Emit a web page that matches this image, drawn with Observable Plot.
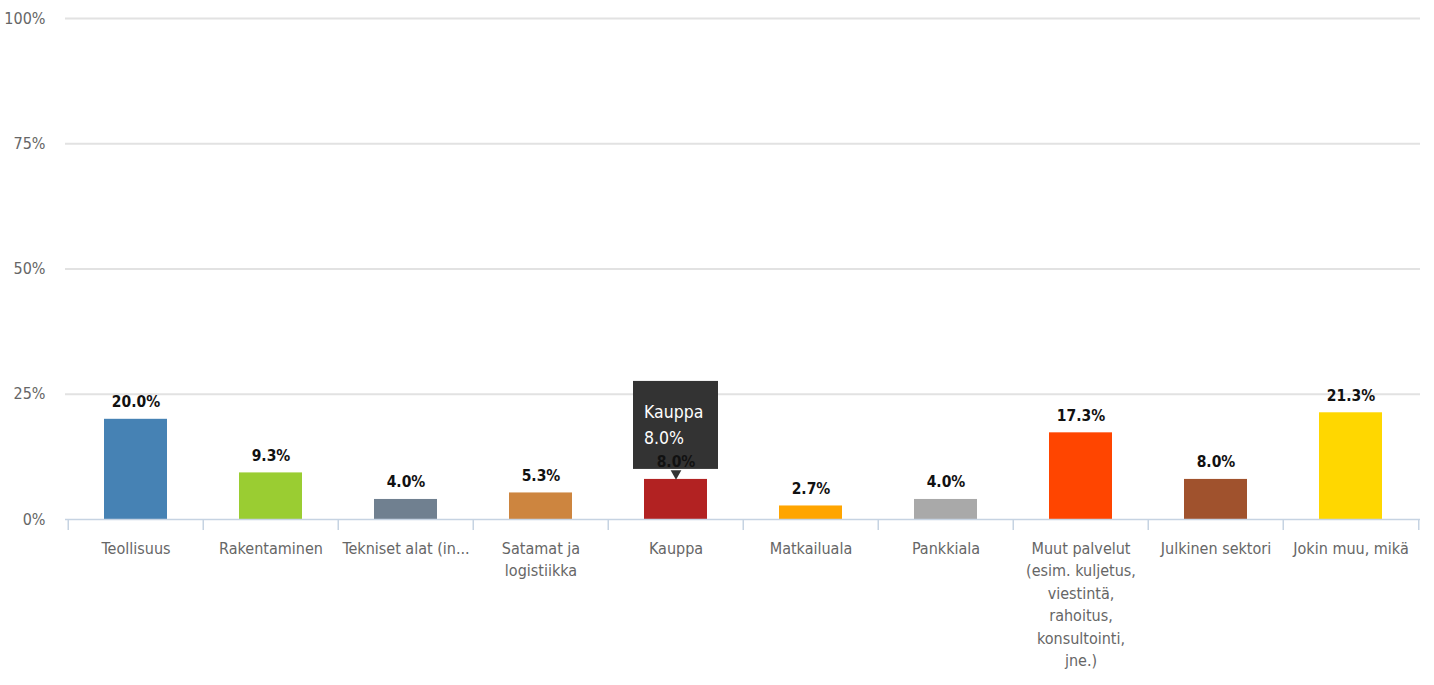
<!DOCTYPE html>
<html>
<head>
<meta charset="utf-8">
<script src="https://cdn.jsdelivr.net/npm/d3@7"></script>
<script src="https://cdn.jsdelivr.net/npm/@observablehq/plot@0.6"></script>
<style>
  html, body { margin: 0; padding: 0; background: #fff; }
</style>
</head>
<body>
<div id="chart"></div>
<script>
// Sectors of respondents (share of answers, %)
const categories = [
  "Teollisuus",
  "Rakentaminen",
  "Tekniset alat (in...",
  "Satamat ja logistiikka",
  "Kauppa",
  "Matkailuala",
  "Pankkiala",
  "Muut palvelut (esim. kuljetus, viestintä, rahoitus, konsultointi, jne.)",
  "Julkinen sektori",
  "Jokin muu, mikä"
];
const tickLabels = [
  "Teollisuus",
  "Rakentaminen",
  "Tekniset alat (in...",
  "Satamat ja\nlogistiikka",
  "Kauppa",
  "Matkailuala",
  "Pankkiala",
  "Muut palvelut\n(esim. kuljetus,\nviestintä,\nrahoitus,\nkonsultointi,\njne.)",
  "Julkinen sektori",
  "Jokin muu, mikä"
];
const shares = [20.0, 9.3, 4.0, 5.3, 8.0, 2.7, 4.0, 17.3, 8.0, 21.3];
const barColors = ["steelblue", "yellowgreen", "slategray", "peru", "firebrick",
                   "orange", "darkgray", "orangered", "sienna", "gold"];
const yTicks = [0, 25, 50, 75, 100];
const highlighted = "Kauppa";

const data = categories.map((category, i) => ({
  category, label: tickLabels[i], value: shares[i]
}));
const tip = data.filter(d => d.category === highlighted);

const W = 1434, H = 685;
const mL = 65, mR = 14, mT = 18, mB = 166;
const step = (W - mL - mR) / categories.length;
const FONT = "'DejaVu Sans Condensed', 'DejaVu Sans', sans-serif";
const pct = v => v.toFixed(1) + "%";

const chart = Plot.plot({
  width: W,
  height: H,
  marginLeft: mL,
  marginRight: mR,
  marginTop: mT,
  marginBottom: mB,
  style: {fontFamily: FONT, fontSize: "16px", background: "white", color: "#666"},
  x: {domain: categories, padding: 0, axis: null},
  y: {domain: [0, 100], axis: null},
  color: {domain: categories, range: barColors},
  marks: [
    // horizontal grid
    Plot.ruleY(yTicks.filter(t => t > 0), {y: d => d, stroke: "#e2e2e2", strokeWidth: 2}),
    // y tick labels
    Plot.text(yTicks, {
      y: d => d, frameAnchor: "left", dx: -20, textAnchor: "end",
      text: d => d + "%", fill: "#666", fontSize: 16
    }),
    // category bars
    Plot.barY(data, {x: "category", y: "value", fill: "category", insetLeft: 36, insetRight: 36}),
    // baseline and band separators
    Plot.ruleY([0], {stroke: "#c6d3e2", strokeWidth: 1.5}),
    Plot.ruleX(categories, {
      x: d => d, y1: () => 0, y2: () => 0, insetBottom: -11, dx: -step / 2,
      stroke: "#c6d3e2", strokeWidth: 1.5
    }),
    Plot.ruleX(categories.slice(-1), {
      x: d => d, y1: () => 0, y2: () => 0, insetBottom: -11, dx: step / 2,
      stroke: "#c6d3e2", strokeWidth: 1.5
    }),
    // x tick labels
    Plot.text(data, {
      x: "category", y: () => 0, text: "label", lineAnchor: "top", dy: 18,
      lineHeight: 1.41, fill: "#666", fontSize: 16
    }),
    // hover tooltip on the highlighted bar
    Plot.barY(tip, {
      x: "category", y1: "value", y2: "value",
      insetTop: -98, insetBottom: 10, insetLeft: 25, insetRight: 25, fill: "#333"
    }),
    Plot.dot(tip, {
      x: "category", y: "value", symbol: "triangle", r: 4, rotate: 180,
      fill: "#333", dy: -6
    }),
    Plot.text(tip, {
      x: "category", y: "value", text: d => d.category + "\n" + pct(d.value),
      textAnchor: "start", lineAnchor: "bottom", lineHeight: 1.49,
      dx: -32, dy: -35, fill: "white", fontSize: 17.5
    }),
    // value labels
    Plot.text(data, {
      x: "category", y: "value", text: d => pct(d.value), lineAnchor: "bottom",
      dy: -12, fontWeight: "bold", fill: "#111", fontSize: 15.5
    })
  ]
});

document.getElementById("chart").appendChild(chart);
</script>
</body>
</html>
